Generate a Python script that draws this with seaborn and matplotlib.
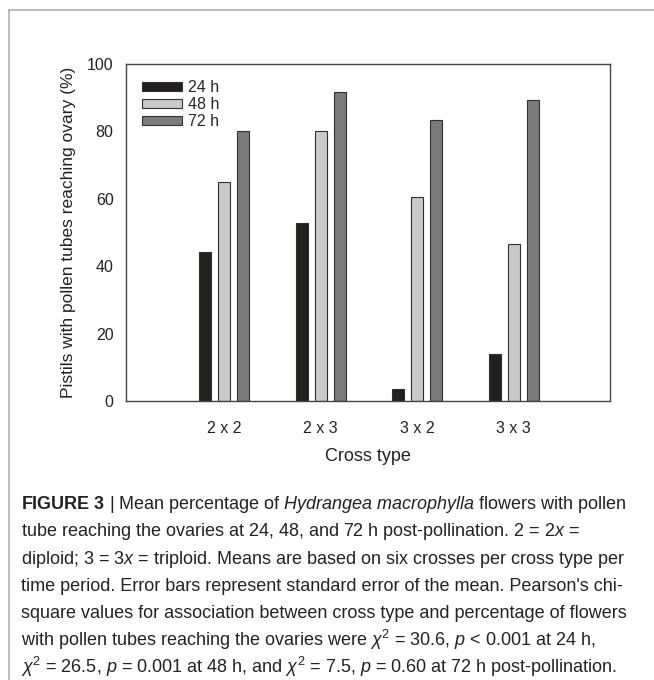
import matplotlib
matplotlib.use('Agg')
import matplotlib.pyplot as plt
import pandas as pd
import seaborn as sns
from matplotlib.lines import Line2D

# data
cross_types = ["2 x 2", "2 x 3", "3 x 2", "3 x 3"]
hours = ["24 h", "48 h", "72 h"]
pct_24h = [44.3, 53.0, 3.7, 14.0]
pct_48h = [65.0, 80.0, 60.5, 46.8]
pct_72h = [80.0, 91.8, 83.3, 89.3]
bar_colors = ["#231f20", "#c9c9ca", "#7b7b7d"]

caption_lines = [
    r"$\mathbf{FIGURE\ 3}$ | Mean percentage of $\mathit{Hydrangea\ macrophylla}$ flowers with pollen",
    r"tube reaching the ovaries at 24, 48, and 72 h post-pollination. 2 = 2$\mathit{x}$ =",
    r"diploid; 3 = 3$\mathit{x}$ = triploid. Means are based on six crosses per cross type per",
    r"time period. Error bars represent standard error of the mean. Pearson's chi-",
    r"square values for association between cross type and percentage of flowers",
    r"with pollen tubes reaching the ovaries were $\chi^2$ = 30.6, $p$ < 0.001 at 24 h,",
    r"$\chi^2$ = 26.5, $p$ = 0.001 at 48 h, and $\chi^2$ = 7.5, $p$ = 0.60 at 72 h post-pollination.",
]

df = pd.DataFrame({
    "cross": cross_types * 3,
    "time": [h for h in hours for _ in cross_types],
    "pct": pct_24h + pct_48h + pct_72h,
})

sns.set_style("white")
plt.rcParams['font.family'] = ['Liberation Sans', 'DejaVu Sans']
plt.rcParams['mathtext.fontset'] = 'custom'
plt.rcParams['mathtext.rm'] = 'Liberation Sans'
plt.rcParams['mathtext.it'] = 'Liberation Sans:italic'
plt.rcParams['mathtext.bf'] = 'Liberation Sans:bold'

fig = plt.figure(figsize=(6.54, 6.8), dpi=100)
ax = fig.add_axes([0.1927, 0.4096, 0.74, 0.4963])

sns.barplot(data=df, x="cross", y="pct", hue="time", hue_order=hours,
            order=cross_types, palette=dict(zip(hours, bar_colors)),
            width=0.59, gap=0.37, edgecolor="#303030", linewidth=0.8,
            ax=ax, legend=False)

ax.set_xlim(-1.02, 4.0)
ax.set_ylim(0, 100)
ax.set_yticks([0, 20, 40, 60, 80, 100])
for s in ax.spines.values():
    s.set_color("#444444")
    s.set_linewidth(1.0)
    s.set_visible(True)
ax.tick_params(axis="both", direction="out", length=5, width=1.0,
               color="#444444", labelsize=11.5, labelcolor="#222222", pad=4)
ax.tick_params(axis="x", pad=9)
ax.set_xlabel("Cross type", fontsize=13, color="#222222", labelpad=9)
ax.set_ylabel("Pistils with pollen tubes reaching ovary (%)", fontsize=12.5,
              color="#222222", labelpad=8)

handles = [plt.Rectangle((0, 0), 1, 1, facecolor=c, edgecolor="#303030", linewidth=0.8)
           for c in bar_colors]
ax.legend(handles, hours, loc="upper left", bbox_to_anchor=(0.01, 0.985),
          frameon=False, fontsize=11.5, handlelength=2.5, handleheight=0.5,
          labelspacing=0.12, handletextpad=0.35, borderaxespad=0.3)

# caption box border
fig.add_artist(Line2D([9 / 654, 1], [1 - 10 / 680] * 2, color="#b0b0b0", lw=1.2))
fig.add_artist(Line2D([9 / 654] * 2, [0, 1 - 10 / 680], color="#b0b0b0", lw=1.2))

for i, line in enumerate(caption_lines):
    y = 509 + i * 27.3
    fig.text(21 / 654, 1 - y / 680, line, fontsize=13, color="#222222",
             ha="left", va="baseline")

fig.savefig("out.png", dpi=100)
